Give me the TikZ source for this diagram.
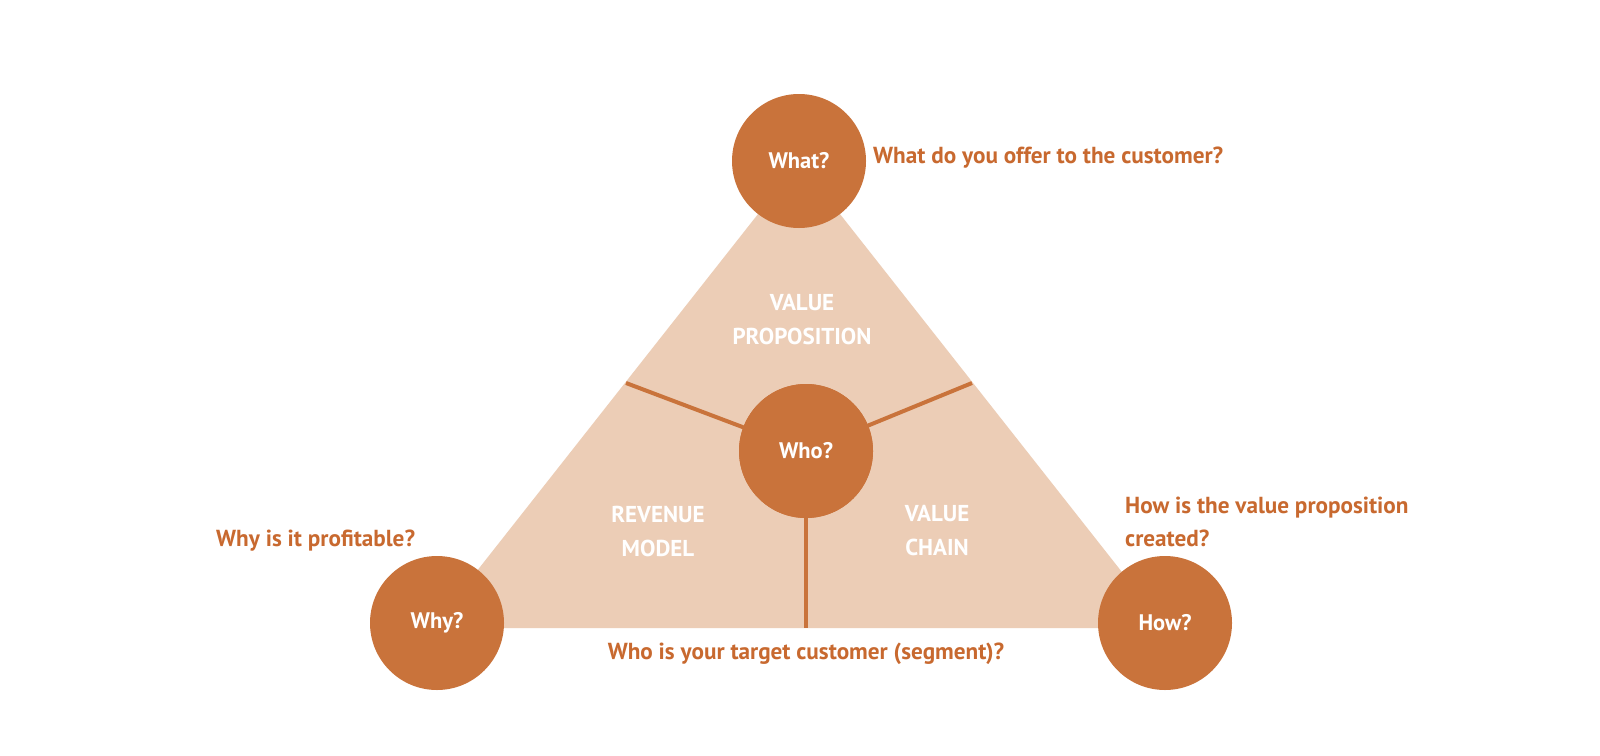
\documentclass[tikz,border=0pt]{standalone}
\usepackage{fontspec}
\setmainfont{PT Sans}
\definecolor{circ}{HTML}{C9733B}
\definecolor{tri}{HTML}{ECCDB6}
\definecolor{txt}{HTML}{C8692F}
\tikzset{
  qcircle/.style={circle, fill=circ, minimum size=134pt, inner sep=0pt, text=white, font=\fontsize{22.5}{26}\selectfont\bfseries},
  divider/.style={draw=circ, line width=4pt},
  inlabel/.style={text=white, align=center, font=\fontsize{23}{34}\selectfont\bfseries},
  question/.style={text=txt, font=\fontsize{23.2}{33.5}\selectfont\bfseries, inner sep=0pt}
}
\begin{document}
\begin{tikzpicture}[x=1pt,y=-1pt]
\useasboundingbox[fill=white] (0,0) rectangle (1600,755);
% triangle
\coordinate (ta) at (799,162);
\coordinate (tl) at (432,628);
\coordinate (tr) at (1166,628);
\fill[tri] (ta) -- (tl) -- (tr) -- cycle;
% dividers
\coordinate (dl) at (626,383);
\coordinate (dr) at (972,383);
\coordinate (db) at (806,628);
\node[qcircle] (who) at (806,451) {Who?};
\draw[divider] (who.center) -- (dl);
\draw[divider] (who.center) -- (dr);
\draw[divider] (who.center) -- (db);
\node[qcircle] (who2) at (806,451) {Who?};
% corner circles
\node[qcircle] (what) at (799,161) {What?};
\node[qcircle] (why) at (437,623) {Why?};
\node[qcircle] (how) at (1165,623) {How?};
% inner labels
\node[inlabel] (vp) at (802,320) {VALUE\\PROPOSITION};
\node[inlabel] (rm) at (658,531) {REVENUE\\MODEL};
\node[inlabel] (vc) at (937,531) {VALUE\\CHAIN};
% questions
\node[question, anchor=west] (qwhat) at (873,158) {What do you offer to the customer?};
\node[question, anchor=west] (qwhy) at (216,541) {Why is it profitable?};
\node[question, anchor=west, align=left] (qhow) at (1125,522) {How is the value proposition\\created?};
\node[question] (qwho) at (806,654) {Who is your target customer (segment)?};
\end{tikzpicture}
\end{document}
